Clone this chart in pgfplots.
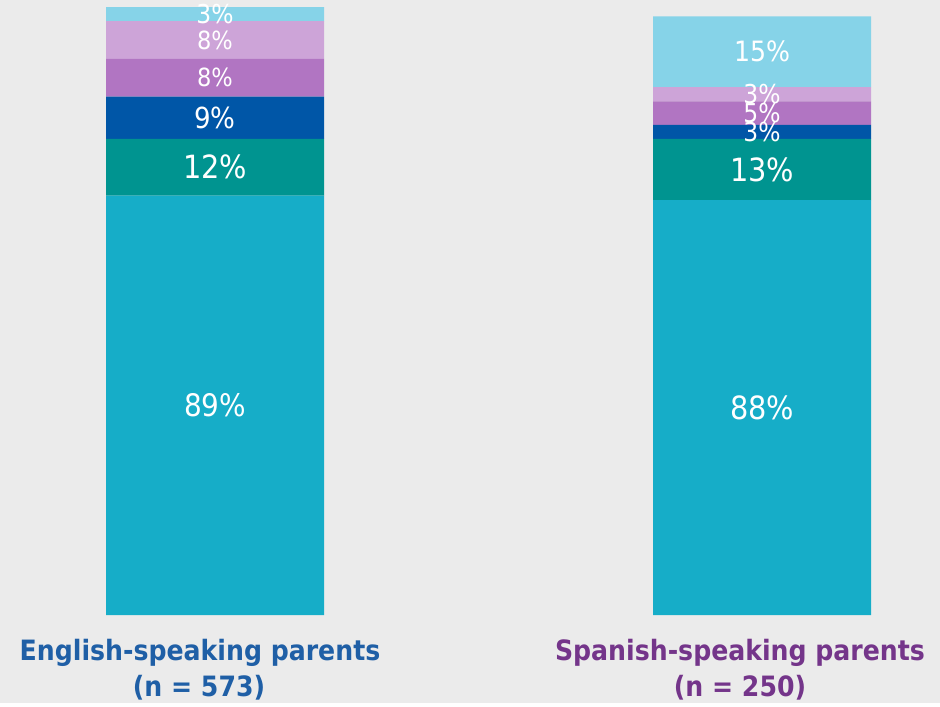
\documentclass[border=0pt]{standalone}
\usepackage{pgfplots}
\pgfplotsset{compat=1.18}
\usepackage{fontspec}
\setmainfont{DejaVu Sans Condensed}
\definecolor{bg}{HTML}{EBEBEB}
\definecolor{cA}{HTML}{16ADC8}
\definecolor{cB}{HTML}{009490}
\definecolor{cC}{HTML}{0056A7}
\definecolor{cD}{HTML}{B175C2}
\definecolor{cE}{HTML}{CDA4D8}
\definecolor{cF}{HTML}{86D3E8}
\definecolor{engblue}{HTML}{1F5FA6}
\definecolor{spapur}{HTML}{74358A}
\begin{document}
\begin{tikzpicture}
\fill[bg] (0,0) rectangle (470pt,351.5pt);
\begin{axis}[
  at={(0,0)}, anchor=south west,
  scale only axis, width=470pt, height=351.5pt,
  xmin=0, xmax=940, ymin=-18.67, ymax=130.49,
  hide axis, clip=false,
  ybar stacked, bar width=218,
]
\addplot[fill=cA, draw=none] coordinates {(215,89) (762,88)};
\addplot[fill=cB, draw=none] coordinates {(215,12) (762,13)};
\addplot[fill=cC, draw=none] coordinates {(215,9) (762,3)};
\addplot[fill=cD, draw=none] coordinates {(215,8) (762,5)};
\addplot[fill=cE, draw=none] coordinates {(215,8) (762,3)};
\addplot[fill=cF, draw=none] coordinates {(215,3) (762,15)};
\coordinate (e1) at (axis cs:215,44.5);
\coordinate (e2) at (axis cs:215,95);
\coordinate (e3) at (axis cs:215,105.5);
\coordinate (e4) at (axis cs:215,114);
\coordinate (e5) at (axis cs:215,122);
\coordinate (e6) at (axis cs:215,127.5);
\coordinate (s1) at (axis cs:762,44);
\coordinate (s2) at (axis cs:762,94.5);
\coordinate (s3) at (axis cs:762,102.5);
\coordinate (s4) at (axis cs:762,106.5);
\coordinate (s5) at (axis cs:762,110.5);
\coordinate (s6) at (axis cs:762,119.5);
\node[font=\bfseries\fontsize{14}{18}\selectfont, text=engblue, anchor=base] at (axis cs:200,-9.55) {English-speaking parents};
\node[font=\bfseries\fontsize{14}{18}\selectfont, text=engblue, anchor=base] at (axis cs:199,-17.2) {(n = 573)};
\node[font=\bfseries\fontsize{14}{18}\selectfont, text=spapur, anchor=base] at (axis cs:740,-9.55) {Spanish-speaking parents};
\node[font=\bfseries\fontsize{14}{18}\selectfont, text=spapur, anchor=base] at (axis cs:740,-17.2) {(n = 250)};
\end{axis}
\begin{scope}[every node/.style={text=white, inner sep=0pt, anchor=center}]
\node[font=\fontsize{15.5}{18}\selectfont] at (e1) {89\%};
\node[font=\fontsize{16}{18}\selectfont] at (e2) {12\%};
\node[font=\fontsize{14.5}{16}\selectfont] at (e3) {9\%};
\node[font=\fontsize{12.5}{14}\selectfont] at (e4) {8\%};
\node[font=\fontsize{12.5}{14}\selectfont] at (e5) {8\%};
\node[font=\fontsize{13}{14}\selectfont] at (e6) {3\%};
\node[font=\fontsize{16}{18}\selectfont] at (s1) {88\%};
\node[font=\fontsize{16}{18}\selectfont] at (s2) {13\%};
\node[font=\fontsize{13}{14}\selectfont] at (s3) {3\%};
\node[font=\fontsize{13}{14}\selectfont] at (s4) {5\%};
\node[font=\fontsize{13}{14}\selectfont] at (s5) {3\%};
\node[font=\fontsize{14}{16}\selectfont] at (s6) {15\%};
\end{scope}
\end{tikzpicture}
\end{document}
